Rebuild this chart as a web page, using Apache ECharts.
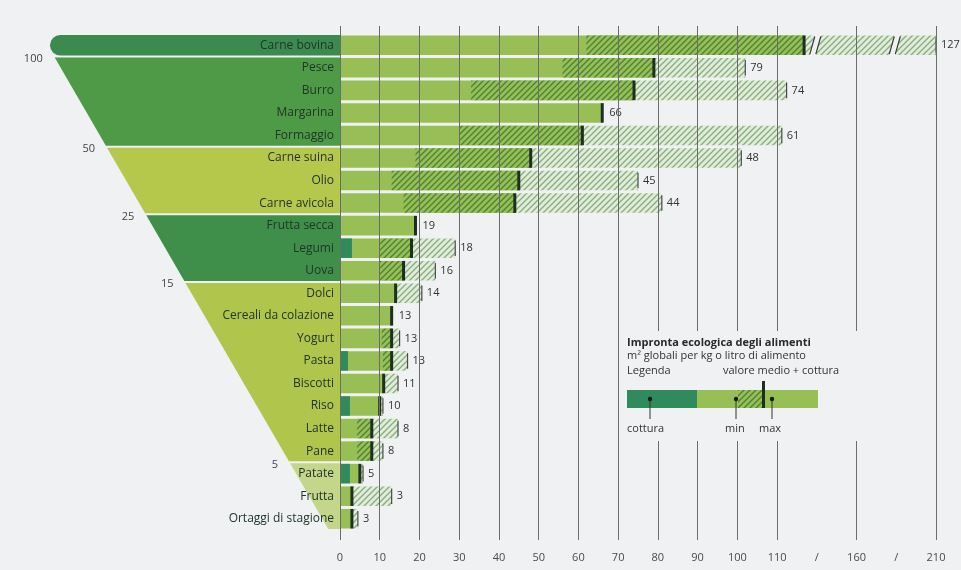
<!DOCTYPE html>
<html><head><meta charset="utf-8">
<script src="https://cdn.jsdelivr.net/npm/echarts@6/dist/echarts.min.js"></script>
<style>html,body{margin:0;padding:0;background:#eff1f3}#c{width:961px;height:570px}</style>
</head><body><div id="c"></div>
<script>
// ---- data ----
const categories = ['Carne bovina','Pesce','Burro','Margarina','Formaggio','Carne suina','Olio','Carne avicola','Frutta secca','Legumi','Uova','Dolci','Cereali da colazione','Yogurt','Pasta','Biscotti','Riso','Latte','Pane','Patate','Frutta','Ortaggi di stagione'];
const cottura = [0,0,0,0,0,0,0,0,0,3,0,0,0,0,2,0,2.5,0,0,2.5,0,0];
const minVal  = [62,56,33,66,30,19,13,16,19,10,10,14,13,10.5,10.8,11,10,4.3,4.3,5,3,3];
const meanVal = [127,79,74,66,61,48,45,44,19,18,16,14,13,13,13,11,10,8,8,5,3,3];
const maxVal  = [210,102,116,66,113,101,75,81,19,29,24,20.6,13,15,17,14.6,10.8,14.6,10.8,5.8,13,4.5];
const groupStart = [0,1,5,8,11,19];
const groupEnd   = [0,4,7,10,18,21];
const groupLabels = ['100','50','25','15','5'];
const xTickLabels = ['0','10','20','30','40','50','60','70','80','90','100','110','/','160','/','210'];

// ---- styling ----
const BG = '#eff1f3';
const bandColors = ['#3c8a50','#4e9a47','#b5c84c','#3f8e4a','#afc54b','#c3d68a'];
const LIGHT = '#98bf55', COOK = '#2f8a5c', MEAN = '#1d2f21';
const FONT = '"Open Sans", "DejaVu Sans", sans-serif';

// broken axis: 110..160 and 160..210 compressed
function pos(v){ if (v <= 110) return v; if (v <= 160) return 110 + (v-110)*0.4; return 130 + (v-160)*0.4; }

function makeHatch(bg, stroke, lw){
  const s = 6, cv = document.createElement('canvas'); cv.width = s; cv.height = s;
  const ctx = cv.getContext('2d');
  if (bg){ ctx.fillStyle = bg; ctx.fillRect(0,0,s,s); }
  ctx.strokeStyle = stroke; ctx.lineWidth = lw; ctx.beginPath();
  ctx.moveTo(0,s); ctx.lineTo(s,0);
  ctx.moveTo(-s/2,s/2); ctx.lineTo(s/2,-s/2);
  ctx.moveTo(s/2,s*1.5); ctx.lineTo(s*1.5,s/2);
  ctx.stroke();
  return cv;
}
const darkHatch = {image: makeHatch(LIGHT, '#4a8436', 1.4), repeat:'repeat'};
const lightHatch = {image: makeHatch('#e3ebde', '#86b27a', 1.4), repeat:'repeat'};

const rows = categories.map((c,i)=>[i, cottura[i], minVal[i], meanVal[i], maxVal[i]]);
const groups = groupStart.map((s,k)=>[0, s, groupEnd[k], k]);

function edgeX(y){ return 55 + (y - 58) * 0.58; }

function renderBand(params, api){
  const s = api.value(1), e = api.value(2), k = api.value(3);
  const bh = api.size([0,1])[1];
  const yT = api.coord([0, s])[1] - bh/2 + (k > 0 ? 1 : 0);
  const yB = api.coord([0, e])[1] + bh/2 - 1;
  const xR = api.coord([0, s])[0];
  const ch = [];
  if (k === 0){
    ch.push({type:'rect', shape:{x:50, y:yT+1, width:xR-50, height:yB-yT-1, r:[11,0,0,11]}, style:{fill:bandColors[0]}});
  } else {
    ch.push({type:'polygon', shape:{points:[[edgeX(yT),yT],[xR,yT],[xR,yB],[edgeX(yB),yB]]}, style:{fill:bandColors[k]}});
    ch.push({type:'text', style:{text:groupLabels[k-1], x:edgeX(yT)-12, y:yT+1, align:'right', verticalAlign:'middle', fill:'#444', font:'11px ' + FONT}});
  }
  return {type:'group', children:ch};
}

function renderRow(params, api){
  const i = api.value(0);
  const c = api.value(1), mn = api.value(2), me = api.value(3), mx = api.value(4);
  const yc = api.coord([0, i])[1];
  const bh = api.size([0,1])[1];
  const h = bh - 3, y = yc - h/2;
  const X = v => api.coord([pos(v), i])[0];
  const x0 = X(0), xc = X(c), xmn = X(mn), xme = X(me), xmx = X(mx);
  const ch = [];
  if (xmx > xme + 1){
    ch.push({type:'rect', shape:{x:xme, y:y, width:xmx-xme, height:h}, style:{fill:lightHatch}});
    // axis-break gaps inside the bar
    [120, 140].forEach(bp => {
      const xb = api.coord([bp - 0.5, i])[0];
      if (xb > xme && xb < xmx){
        ch.push({type:'polygon', shape:{points:[[xb,y-1],[xb+6,y-1],[xb+1,y+h+1],[xb-5,y+h+1]]}, style:{fill:BG}});
        ch.push({type:'line', shape:{x1:xb+6, y1:y+1, x2:xb+1, y2:y+h-1}, style:{stroke:'#3a3a3a', lineWidth:1.2}});
        ch.push({type:'line', shape:{x1:xb, y1:y+1, x2:xb-5, y2:y+h-1}, style:{stroke:'#3a3a3a', lineWidth:1.2}});
      }
    });
    ch.push({type:'line', shape:{x1:xmx, y1:y+2, x2:xmx, y2:y+h-2}, style:{stroke:'#4a4a4a', lineWidth:1.2}});
  }
  ch.push({type:'rect', shape:{x:x0, y:y, width:xme-x0, height:h}, style:{fill:LIGHT}});
  if (xme > xmn + 1) ch.push({type:'rect', shape:{x:xmn, y:y, width:xme-xmn, height:h}, style:{fill:darkHatch}});
  if (xc > x0 + 0.5) ch.push({type:'rect', shape:{x:x0, y:y, width:xc-x0, height:h}, style:{fill:COOK}});
  ch.push({type:'rect', shape:{x:xme-1.5, y:y, width:3, height:h}, style:{fill:MEAN}});
  ch.push({type:'text', style:{text:String(me), x:Math.max(xmx, xme+2)+5, y:yc, verticalAlign:'middle', fill:'#333', font:'11px ' + FONT}});
  return {type:'group', children:ch};
}

const chart = echarts.init(document.getElementById('c'), null, {renderer:'canvas'});
const lineColors = xTickLabels.map(l => l === '/' ? 'rgba(0,0,0,0)' : '#6c6c6c');

// legend graphics
const LX = 627;
const legend = [
  {type:'rect', shape:{x:623, y:331, width:248, height:110}, style:{fill:BG}},
  {type:'text', style:{text:'Impronta ecologica degli alimenti', x:LX, y:343, verticalAlign:'middle', fill:'#2a2a2a', font:'bold 11px ' + FONT}},
  {type:'text', style:{text:'m² globali per kg o litro di alimento', x:LX, y:356, verticalAlign:'middle', fill:'#333', font:'11px ' + FONT}},
  {type:'text', style:{text:'Legenda', x:LX, y:371, verticalAlign:'middle', fill:'#333', font:'11px ' + FONT}},
  {type:'text', style:{text:'valore medio + cottura', x:723, y:371, verticalAlign:'middle', fill:'#333', font:'11px ' + FONT}},
  {type:'rect', shape:{x:LX, y:390, width:70, height:18}, style:{fill:COOK}},
  {type:'rect', shape:{x:697, y:390, width:121, height:18}, style:{fill:LIGHT}},
  {type:'rect', shape:{x:738, y:390, width:25, height:18}, style:{fill:darkHatch}},
  {type:'rect', shape:{x:762, y:381, width:3, height:27}, style:{fill:MEAN}},
  {type:'line', shape:{x1:650, y1:399, x2:650, y2:419}, style:{stroke:'#333', lineWidth:1}},
  {type:'line', shape:{x1:736, y1:399, x2:736, y2:419}, style:{stroke:'#333', lineWidth:1}},
  {type:'line', shape:{x1:772, y1:399, x2:772, y2:419}, style:{stroke:'#333', lineWidth:1}},
  {type:'circle', shape:{cx:650, cy:399, r:2.2}, style:{fill:'#1a1a1a'}},
  {type:'circle', shape:{cx:736, cy:399, r:2.2}, style:{fill:'#1a1a1a'}},
  {type:'circle', shape:{cx:772, cy:399, r:2.2}, style:{fill:'#1a1a1a'}},
  {type:'text', style:{text:'cottura', x:LX, y:429, verticalAlign:'middle', fill:'#333', font:'11px ' + FONT}},
  {type:'text', style:{text:'min', x:725, y:429, verticalAlign:'middle', fill:'#333', font:'11px ' + FONT}},
  {type:'text', style:{text:'max', x:759, y:429, verticalAlign:'middle', fill:'#333', font:'11px ' + FONT}}
].map(e => Object.assign(e, {z:10, silent:true}));

chart.setOption({
  backgroundColor: BG,
  animation: false,
  grid: [
    {left:340, right:25, top:26, bottom:30},
    {left:340, right:25, top:34, bottom:40}
  ],
  xAxis: [
    {gridIndex:0, type:'value', min:0, max:150, interval:10, z:3,
     axisLine:{show:false}, axisTick:{show:false},
     axisLabel:{margin:12, fontSize:11, color:'#4a4a4a', fontFamily:FONT, formatter: v => xTickLabels[Math.round(v/10)]},
     splitLine:{show:true, lineStyle:{color:lineColors, width:1}}},
    {gridIndex:1, type:'value', min:0, max:150, show:false, splitLine:{show:false}}
  ],
  yAxis: [
    {gridIndex:0, type:'value', show:false, splitLine:{show:false}},
    {gridIndex:1, type:'category', data:categories, inverse:true, z:5,
     axisLine:{show:false}, axisTick:{show:false}, splitLine:{show:false},
     axisLabel:{margin:6, fontSize:12, color:'#22352a', fontFamily:FONT}}
  ],
  graphic: legend,
  series: [
    {type:'custom', name:'band', xAxisIndex:1, yAxisIndex:1, data:groups, z:1, silent:true, clip:false,
     encode:{x:0, y:1}, renderItem:renderBand},
    {type:'custom', name:'rows', xAxisIndex:1, yAxisIndex:1, data:rows, z:2, silent:true, clip:false,
     encode:{x:[2,3,4], y:0}, renderItem:renderRow}
  ]
});
</script></body></html>
